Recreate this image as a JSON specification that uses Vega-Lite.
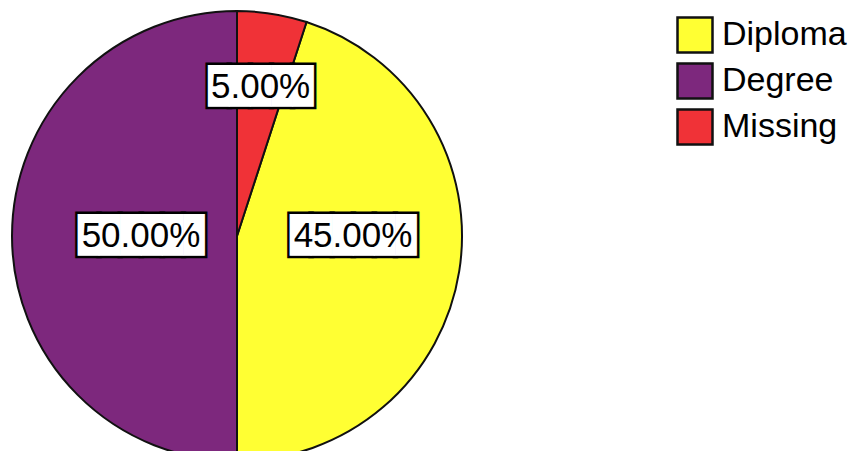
{
  "$schema": "https://vega.github.io/schema/vega-lite/v6.json",
  "width": 450,
  "height": 450,
  "autosize": "none",
  "padding": {"left": 12, "top": 11, "right": 388, "bottom": 0},
  "background": "white",
  "data": {
    "values": [
      {"Category": "Diploma", "share": 0.45},
      {"Category": "Degree", "share": 0.50},
      {"Category": "Missing", "share": 0.05}
    ]
  },
  "encoding": {
    "theta": {"field": "share", "type": "quantitative", "stack": true},
    "order": {"field": "Category", "sort": "descending"}
  },
  "layer": [
    {
      "mark": {"type": "arc", "outerRadius": 225, "stroke": "#111111", "strokeWidth": 2},
      "encoding": {
        "color": {
          "field": "Category",
          "type": "nominal",
          "scale": {"domain": ["Diploma", "Degree", "Missing"], "range": ["#FFFF33", "#7D287D", "#F03237"]},
          "legend": {
            "title": null,
            "orient": "none",
            "legendX": 664,
            "legendY": 5,
            "padding": 0,
            "symbolType": "square",
            "symbolSize": 1225,
            "symbolStrokeColor": "#111111",
            "symbolStrokeWidth": 2.5,
            "symbolOpacity": 1,
            "labelFont": "Liberation Sans",
            "labelFontSize": 34,
            "labelColor": "#000000",
            "labelOffset": 8,
            "rowPadding": 0,
            "labelLimit": 300
          }
        }
      }
    },
    {
      "mark": {
        "type": "text",
        "font": "DejaVu Sans Mono",
        "fontSize": 35,
        "align": "center",
        "baseline": "middle",
        "fill": "#000000",
        "stroke": "#000000",
        "strokeWidth": 5,
        "radius": {"expr": "datum.Category === 'Missing' ? 151 : datum.Category === 'Diploma' ? 116 : 96"},
        "thetaOffset": {"expr": "datum.Category === 'Diploma' ? -0.157 : 0"},
        "text": {"expr": "datum.share < 0.1 ? '█████' : '██████'"}
      },
      "encoding": {"detail": {"field": "Category", "type": "nominal"}}
    },
    {
      "mark": {
        "type": "text",
        "font": "DejaVu Sans Mono",
        "fontSize": 35,
        "align": "center",
        "baseline": "middle",
        "fill": "#FFFFFF",
        "radius": {"expr": "datum.Category === 'Missing' ? 151 : datum.Category === 'Diploma' ? 116 : 96"},
        "thetaOffset": {"expr": "datum.Category === 'Diploma' ? -0.157 : 0"},
        "text": {"expr": "datum.share < 0.1 ? '█████' : '██████'"}
      },
      "encoding": {"detail": {"field": "Category", "type": "nominal"}}
    },
    {
      "mark": {
        "type": "text",
        "font": "Liberation Sans",
        "fontSize": 35,
        "align": "center",
        "baseline": "middle",
        "fill": "#000000",
        "radius": {"expr": "datum.Category === 'Missing' ? 151 : datum.Category === 'Diploma' ? 116 : 96"},
        "thetaOffset": {"expr": "datum.Category === 'Diploma' ? -0.157 : 0"}
      },
      "encoding": {
        "detail": {"field": "Category", "type": "nominal"},
        "text": {"field": "share", "type": "quantitative", "format": ".2%"}
      }
    }
  ]
}
